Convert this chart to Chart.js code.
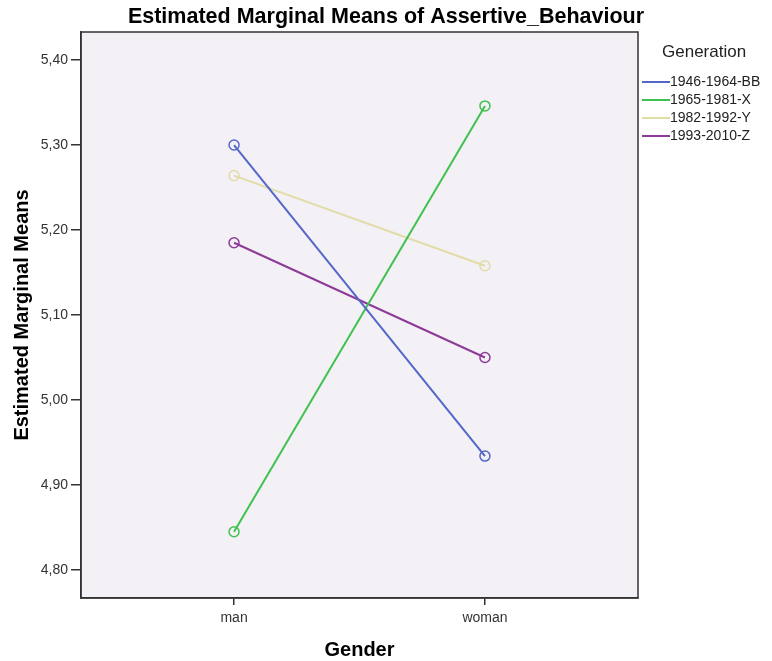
<!DOCTYPE html>
<html>
<head>
<meta charset="utf-8">
<script src="https://cdn.jsdelivr.net/npm/chart.js@4"></script>
<style>
  html, body { margin: 0; padding: 0; background: #fff; }
  #wrap { width: 772px; height: 661px; position: relative; }
</style>
</head>
<body>
<div id="wrap"><canvas id="myChart"></canvas></div>
<script>
// categories and series
const genders = ['man', 'woman'];
const generations = ['1946-1964-BB', '1965-1981-X', '1982-1992-Y', '1993-2010-Z'];
const valBB = [5.300, 4.934];
const valX  = [4.845, 5.346];
const valY  = [5.264, 5.158];
const valZ  = [5.185, 5.050];
const yTicks = [4.80, 4.90, 5.00, 5.10, 5.20, 5.30, 5.40];
const colors = ['#5467c9', '#3fc24f', '#e1dca8', '#8d3a98'];

const series = [valBB, valX, valY, valZ];

const datasets = generations.map((g, i) => ({
  label: g,
  data: series[i].map((v, j) => ({ x: j + 1, y: v })),
  borderColor: colors[i],
  backgroundColor: 'rgba(0,0,0,0)',
  borderWidth: 2,
  pointRadius: 5,
  pointHoverRadius: 5,
  pointBorderWidth: 1.5,
  pointBackgroundColor: 'rgba(0,0,0,0)',
  tension: 0
}));

const FONT = "'Liberation Sans', Arial, sans-serif";

// plot background, frame, title and legend
const spssLook = {
  id: 'spssLook',
  beforeDraw(chart) {
    const { ctx, chartArea: a } = chart;
    ctx.save();
    ctx.fillStyle = '#f3f0f6';
    ctx.fillRect(a.left, a.top, a.right - a.left, a.bottom - a.top);
    ctx.restore();
  },
  afterDraw(chart) {
    const { ctx, chartArea: a } = chart;
    ctx.save();
    ctx.strokeStyle = '#333';
    ctx.lineWidth = 1.5;
    ctx.strokeRect(a.left, a.top, a.right - a.left, a.bottom - a.top);

    ctx.fillStyle = '#000';
    ctx.font = 'bold 21.5px ' + FONT;
    ctx.textAlign = 'center';
    ctx.textBaseline = 'middle';
    ctx.fillText('Estimated Marginal Means of Assertive_Behaviour', 386, 17);

    // legend
    ctx.font = '17px ' + FONT;
    ctx.fillStyle = '#222';
    ctx.textAlign = 'left';
    ctx.fillText('Generation', 662, 52);
    ctx.font = '14px ' + FONT;
    chart.data.datasets.forEach((ds, i) => {
      const y = 82 + i * 18;
      ctx.strokeStyle = ds.borderColor;
      ctx.lineWidth = 2;
      ctx.beginPath();
      ctx.moveTo(642, y);
      ctx.lineTo(670, y);
      ctx.stroke();
      ctx.fillStyle = '#222';
      ctx.fillText(ds.label, 670, y);
    });
    ctx.restore();
  }
};

const ctx = document.getElementById('myChart');
new Chart(ctx, {
  type: 'line',
  data: { datasets: datasets },
  options: {
    responsive: true,
    maintainAspectRatio: false,
    animation: false,
    layout: { padding: { top: 32, right: 134, left: 6, bottom: 0 } },
    plugins: {
      legend: { display: false },
      title: { display: false },
      tooltip: { enabled: false }
    },
    scales: {
      x: {
        type: 'linear',
        min: 0.39,
        max: 2.61,
        afterBuildTicks: (s) => { s.ticks = genders.map((g, i) => ({ value: i + 1 })); },
        afterFit: (s) => { s.height = 63; },
        ticks: {
          callback: (v) => genders[v - 1],
          color: '#333',
          font: { family: FONT, size: 14 },
          padding: 5,
          maxRotation: 0
        },
        grid: { drawOnChartArea: false, drawTicks: true, tickLength: 7, color: '#333', lineWidth: 1.5 },
        border: { color: '#333', width: 1.5 },
        title: {
          display: true,
          text: 'Gender',
          color: '#000',
          font: { family: FONT, size: 20, weight: 'bold' },
          padding: { top: 4, bottom: -1 }
        }
      },
      y: {
        min: 4.767,
        max: 5.433,
        afterBuildTicks: (s) => { s.ticks = yTicks.map(v => ({ value: v })); },
        afterFit: (s) => { s.width = 75; },
        ticks: {
          callback: (v) => Number(v).toFixed(2).replace('.', ','),
          color: '#333',
          font: { family: FONT, size: 14 },
          padding: 3
        },
        grid: { drawOnChartArea: false, drawTicks: true, tickLength: 10, color: '#333', lineWidth: 1.5 },
        border: { color: '#333', width: 1.5 },
        title: {
          display: true,
          text: 'Estimated Marginal Means',
          color: '#000',
          font: { family: FONT, size: 20, weight: 'bold' },
          padding: { bottom: 6 }
        }
      }
    }
  },
  plugins: [spssLook]
});
</script>
</body>
</html>
